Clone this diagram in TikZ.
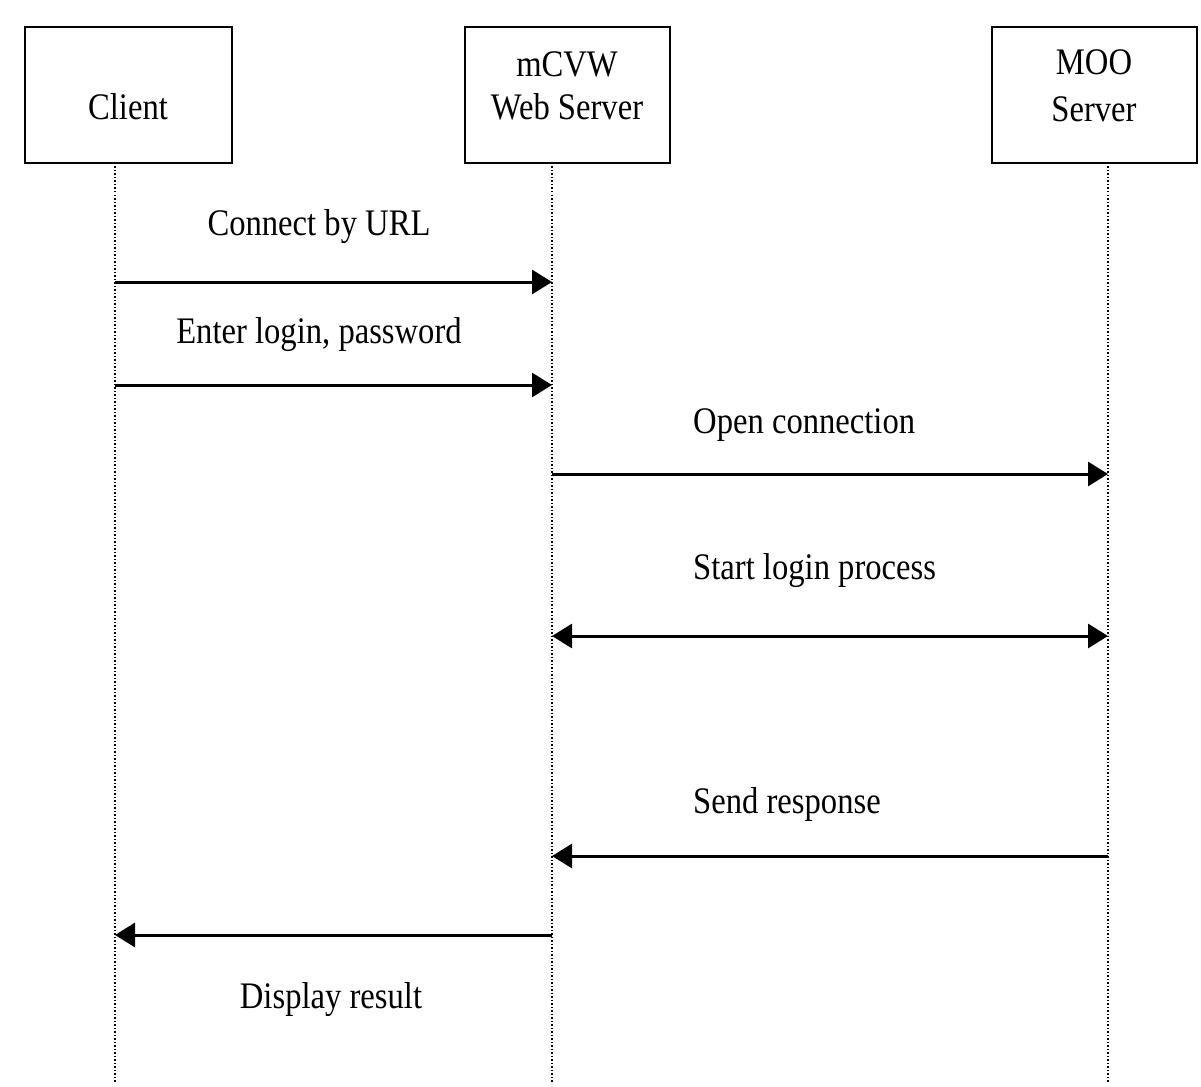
\documentclass[tikz,border=0pt]{standalone}
\usepackage{fontspec}
\usepackage{graphicx}
\setmainfont{Liberation Serif}
\usetikzlibrary{arrows.meta}
\newcommand{\tx}[1]{\scalebox{0.87}[1]{#1}}
\begin{document}
\begin{tikzpicture}[x=1pt,y=-1pt,
  actor/.style={draw,line width=2.6pt,minimum height=136pt,inner sep=0pt},
  life/.style={line width=1.5pt,dash pattern=on 1.5pt off 2pt},
  msg/.style={line width=3pt,-{Triangle[length=20pt,width=24pt]}},
  msgb/.style={line width=3pt,{Triangle[length=20pt,width=24pt]}-{Triangle[length=20pt,width=24pt]}},
  lbl/.style={font=\fontsize{37.5}{44}\selectfont,inner sep=0pt,anchor=base}]
\useasboundingbox (0,0) rectangle (1201,1086);
\node[actor,minimum width=207pt] (client) at (128.5,95) {};
\node[actor,minimum width=205pt] (web) at (567.5,95) {};
\node[actor,minimum width=205pt] (moo) at (1094.5,95) {};
\node[lbl] (clientT) at (128,120) {\tx{Client}};
\node[lbl] (webT1) at (567,77) {\tx{mCVW}};
\node[lbl] (webT2) at (567,120) {\tx{Web Server}};
\node[lbl] (mooT1) at (1094,75) {\tx{MOO}};
\node[lbl] (mooT2) at (1094,122) {\tx{Server}};
% lifelines
\coordinate (cT) at (115,163); \coordinate (cB) at (115,1082);
\coordinate (wT) at (552,163); \coordinate (wB) at (552,1082);
\coordinate (mT) at (1108,163); \coordinate (mB) at (1108,1082);
\draw[life] (cT) -- (cB);
\draw[life] (wT) -- (wB);
\draw[life] (mT) -- (mB);
% message end points
\coordinate (c1) at (115,282); \coordinate (w1) at (552,282);
\coordinate (c2) at (115,385); \coordinate (w2) at (552,385);
\coordinate (w3) at (552,474); \coordinate (m3) at (1108,474);
\coordinate (w4) at (552,636); \coordinate (m4) at (1108,636);
\coordinate (w5) at (552,856); \coordinate (m5) at (1108,856);
\coordinate (w6) at (552,935); \coordinate (c6) at (115,935);
\draw[msg] (c1) -- (w1);
\draw[msg] (c2) -- (w2);
\draw[msg] (w3) -- (m3);
\draw[msgb] (w4) -- (m4);
\draw[msg] (m5) -- (w5);
\draw[msg] (w6) -- (c6);
% labels
\node[lbl] (l1) at (319,235) {\tx{Connect by URL}};
\node[lbl] (l2) at (319,343) {\tx{Enter login, password}};
\node[lbl,anchor=base west] (l3) at (693,433) {\tx{Open connection}};
\node[lbl,anchor=base west] (l4) at (693,579) {\tx{Start login process}};
\node[lbl,anchor=base west] (l5) at (693,813) {\tx{Send response}};
\node[lbl] (l6) at (331,1008) {\tx{Display result}};
\end{tikzpicture}
\end{document}
